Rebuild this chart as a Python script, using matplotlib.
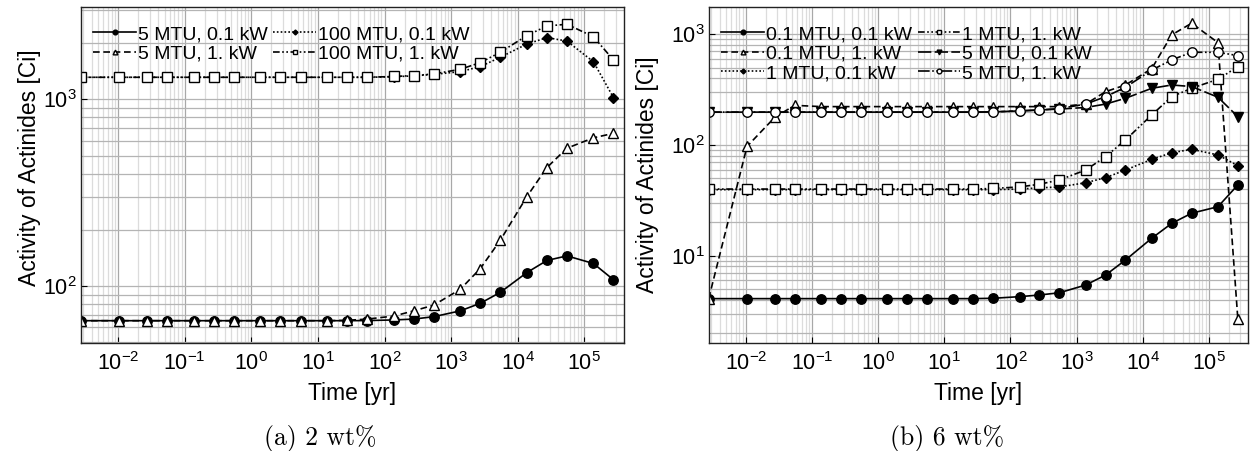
import matplotlib
matplotlib.use("Agg")
import matplotlib.pyplot as plt
from matplotlib.ticker import FixedLocator, NullFormatter, LogFormatterSciNotation

plt.rcParams['font.family'] = ['Liberation Sans', 'DejaVu Sans']
plt.rcParams['mathtext.fontset'] = 'custom'
plt.rcParams['mathtext.rm'] = 'Liberation Sans'
plt.rcParams['mathtext.it'] = 'Liberation Sans:italic'

# Decay time points [yr]
time_yr = [0.00274, 0.0104, 0.0274, 0.0548, 0.137, 0.274, 0.548, 1.37, 2.74, 5.48,
           13.7, 27.4, 54.8, 137, 274, 548, 1370, 2740, 5480, 13700, 27400, 54800,
           137000, 274000]

# (a) 2 wt%
labels_a = ["5 MTU, 0.1 kW", "5 MTU, 1. kW", "100 MTU, 0.1 kW", "100 MTU, 1. kW"]
a_5mtu_01kw = [65.2, 65.2, 65.2, 65.2, 65.2, 65.2, 65.2, 65.2, 65.2, 65.2, 65.2, 65.2,
               65.3, 65.8, 66.5, 68.5, 73.6, 80.8, 92.5, 118, 137, 145, 132, 108]
a_5mtu_1kw = [65.2, 65.2, 65.2, 65.2, 65.2, 65.2, 65.2, 65.2, 65.2, 65.2, 65.2, 65.5,
              66.5, 69, 73.6, 79, 96, 124, 176, 301, 431, 547, 622, 657]
a_100mtu_01kw = [1312, 1312, 1312, 1312, 1312, 1312, 1312, 1312, 1312, 1312, 1312, 1312,
                 1312, 1320, 1335, 1360, 1406, 1497, 1679, 1977, 2140, 2051, 1589, 1020]
a_100mtu_1kw = [1312, 1312, 1312, 1312, 1312, 1312, 1312, 1312, 1312, 1312, 1312, 1312,
                1312, 1325, 1340, 1367, 1448, 1572, 1787, 2193, 2471, 2523, 2163, 1623]

# (b) 6 wt%
labels_b = ["0.1 MTU, 0.1 kW", "0.1 MTU, 1. kW", "1 MTU, 0.1 kW",
            "1 MTU, 1. kW", "5 MTU, 0.1 kW", "5 MTU, 1. kW"]
b_01mtu_01kw = [4.1, 4.1, 4.1, 4.1, 4.1, 4.1, 4.1, 4.1, 4.1, 4.1, 4.1, 4.1,
                4.13, 4.27, 4.42, 4.63, 5.44, 6.69, 9.15, 14.4, 19.6, 24.2, 27.7, 43.6]
b_01mtu_1kw = [4.1, 97, 178, 228, 222, 222, 222, 222, 222, 222, 222, 222,
               222, 222, 222, 222, 234, 303, 348, 490, 986, 1257, 840, 2.66]
b_1mtu_01kw = [39.5, 39.5, 39.5, 39.5, 39.5, 39.5, 39.5, 39.5, 39.5, 39.5, 39.5, 39.5,
               39.5, 40, 41, 41.8, 45.6, 50.7, 59.4, 74.2, 85, 91.4, 81.3, 65]
b_1mtu_1kw = [40, 40, 40, 40, 40, 40, 40, 40, 40, 40, 40, 40,
              40.5, 41.8, 44.2, 48.3, 59.4, 78.4, 111, 187, 273, 325, 392, 509]
b_5mtu_01kw = [198, 198, 198, 198, 198, 198, 198, 198, 198, 198, 198, 198,
               199, 203, 207, 211, 218, 234, 264, 325, 348, 337, 270, 180]
b_5mtu_1kw = [198, 198, 198, 198, 198, 198, 198, 198, 198, 198, 198, 198,
              199, 203, 207, 213, 234, 273, 332, 475, 586, 687, 687, 641]

# axis ticks
x_ticks = [1e-2, 1e-1, 1e0, 1e1, 1e2, 1e3, 1e4, 1e5]
y_ticks_a = [1e2, 1e3]
y_ticks_b = [1e1, 1e2, 1e3]

# line / marker styles per case
solid = '-'
dashed = (0, (4, 2.2))
dotted = (0, (1, 1.3))
dashdotdot = (0, (4, 1.5, 1, 1.5, 1, 1.5))
longdash = (0, (8, 2))
longdashdots = (0, (7, 1.5, 1, 1.5, 1, 1.5))

styles_a = [
    dict(ls=solid, marker='o', mfc='black'),
    dict(ls=dashed, marker='^', mfc='white'),
    dict(ls=dotted, marker='D', mfc='black', ms=5),
    dict(ls=dashdotdot, marker='s', mfc='white'),
]
styles_b = [
    dict(ls=solid, marker='o', mfc='black'),
    dict(ls=dashed, marker='^', mfc='white'),
    dict(ls=dotted, marker='D', mfc='black', ms=5),
    dict(ls=dashdotdot, marker='s', mfc='white'),
    dict(ls=longdash, marker='v', mfc='black'),
    dict(ls=longdashdots, marker='o', mfc='white'),
]

W, H = 1250, 451
fig = plt.figure(figsize=(W / 100, H / 100), dpi=100)
ax_a = fig.add_axes([80.7 / W, 1 - 342.7 / H, 543 / W, 335.4 / H])
ax_b = fig.add_axes([708.7 / W, 1 - 342.7 / H, 539.3 / W, 335.4 / H])


def draw(ax, series, labels, styles, ylim, yticks, ylabel_xy):
    for y, lab, st in zip(series, labels, styles):
        st = dict(st)
        ms = st.pop('ms', 6.8)
        ax.plot(time_yr, y, color='black', lw=1.2, mec='black', mew=1.0,
                ms=ms, label=lab, **st)
    ax.set_xscale('log')
    ax.set_yscale('log')
    ax.set_xlim(2.74e-3, 3.9e5)
    ax.set_ylim(*ylim)
    ax.xaxis.set_major_locator(FixedLocator(x_ticks))
    ax.yaxis.set_major_locator(FixedLocator(yticks))
    ax.xaxis.set_major_formatter(LogFormatterSciNotation())
    ax.yaxis.set_major_formatter(LogFormatterSciNotation())
    ax.xaxis.set_minor_formatter(NullFormatter())
    ax.yaxis.set_minor_formatter(NullFormatter())
    ax.grid(True, which='major', axis='x', color='#a8a8a8', lw=0.9)
    ax.grid(True, which='minor', axis='x', color='#dcdcdc', lw=0.9)
    ax.grid(True, which='both', axis='y', color='#b4b4b4', lw=0.9)
    ax.set_axisbelow(True)
    ax.tick_params(which='major', direction='in', length=4, width=0.8,
                   labelsize=15.5)
    ax.tick_params(axis='x', which='major', pad=7)
    ax.tick_params(axis='y', which='major', pad=3)
    ax.tick_params(which='minor', direction='in', length=0)
    for sp in ax.spines.values():
        sp.set_linewidth(1.0)
        sp.set_color('#222222')
    ax.set_xlabel('Time [yr]', fontsize=16.5, labelpad=5)
    ax.set_ylabel('Activity of Actinides [Ci]', fontsize=16.5, va='center')
    ax.yaxis.set_label_coords(*ylabel_xy)
    ax.legend(loc='upper left', bbox_to_anchor=(0.005, 0.975), ncol=2,
              frameon=False, fontsize=14, markerscale=0.5, handlelength=2.2,
              handletextpad=0.1, columnspacing=0.3, labelspacing=0.1,
              borderaxespad=0.2, borderpad=0.3)


draw(ax_a, [a_5mtu_01kw, a_5mtu_1kw, a_100mtu_01kw, a_100mtu_1kw],
     labels_a, styles_a, (49.7, 3110), y_ticks_a, (-0.095, 0.522))
draw(ax_b, [b_01mtu_01kw, b_01mtu_1kw, b_1mtu_01kw, b_1mtu_1kw, b_5mtu_01kw, b_5mtu_1kw],
     labels_b, styles_b, (1.64, 1750), y_ticks_b, (-0.113, 0.5))

fig.text(320 / W, 1 - 438 / H, '(a) 2 wt%', family=['cmr10'], fontsize=18.5,
         ha='center', va='center')
fig.text(947 / W, 1 - 438 / H, '(b) 6 wt%', family=['cmr10'], fontsize=18.5,
         ha='center', va='center')

fig.savefig('out.png', dpi=100)
